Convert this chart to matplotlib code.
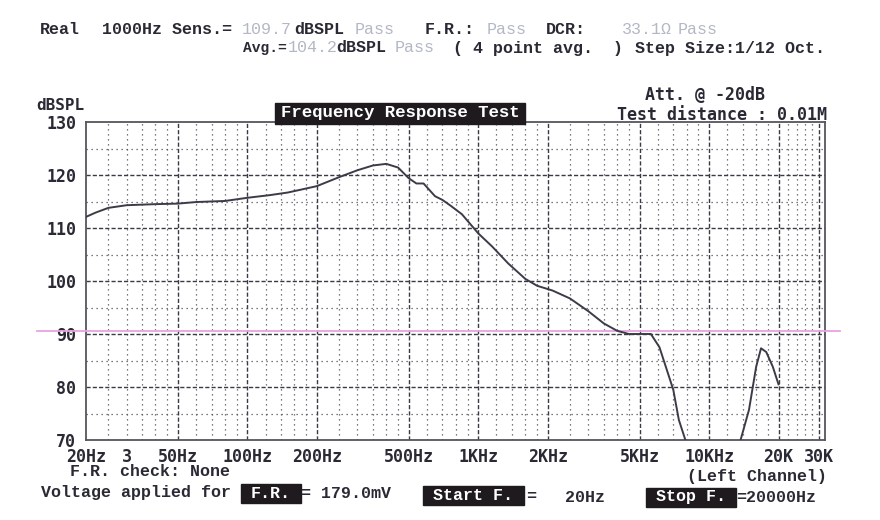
import numpy as np
import matplotlib.pyplot as plt
from matplotlib.patches import Rectangle

freq = [20, 22, 25, 30, 40, 50, 60, 80, 100, 125, 150, 200, 250, 300, 350, 400,
        450, 500, 540, 580, 650, 700, 760, 850, 1000, 1150, 1350, 1600, 1800,
        2100, 2500, 3000, 3500, 4000, 4500, 5600, 6100, 7000, 7400, 7900, 8500,
        12500, 13700, 14900, 16000, 16800, 17700, 18900, 20000]
spl = [112.1, 112.9, 113.8, 114.3, 114.5, 114.6, 114.9, 115.1, 115.7, 116.2,
       116.7, 117.9, 119.6, 120.9, 121.8, 122.1, 121.4, 119.4, 118.4, 118.4,
       116.0, 115.3, 114.2, 112.6, 109.0, 106.5, 103.3, 100.4, 99.1, 98.2,
       96.7, 94.3, 92.0, 90.6, 90.0, 90.0, 87.5, 79.5, 73.8, 70.0, 64.0,
       64.0, 70.0, 75.7, 83.8, 87.3, 86.6, 83.8, 80.5]

limit_db = 90.5

xtick_pos = [20, 30, 50, 100, 200, 500, 1000, 2000, 5000, 10000, 20000, 30000]
xtick_lab = ["20Hz", "3", "50Hz", "100Hz", "200Hz", "500Hz", "1KHz", "2KHz",
             "5KHz", "10KHz", "20K", "30K"]
ytick_pos = [70, 80, 90, 100, 110, 120, 130]

major_v = [50, 100, 200, 500, 1000, 2000, 5000, 10000, 20000, 30000]
minor_v = [25, 30, 35, 40, 45, 60, 70, 80, 90, 120, 140, 160, 180,
           250, 300, 350, 400, 450, 600, 700, 800, 900,
           1200, 1400, 1600, 1800, 2500, 3000, 3500, 4000, 4500,
           6000, 7000, 8000, 9000, 12000, 14000, 16000, 18000,
           22000, 24000, 26000, 28000]
major_h = [80, 90, 100, 110, 120]
minor_h = [75, 85, 95, 105, 115, 125]

W, H = 880, 520
DARK = "#2a2a35"
GRAY = "#b4b8c6"
MONO = "Liberation Mono"
SMONO = "DejaVu Sans Mono"

fig = plt.figure(figsize=(W / 100, H / 100), dpi=100)
fig.patch.set_facecolor("white")
ax = fig.add_axes([86 / W, 80 / H, 739 / W, 318 / H])

ax.set_xscale("log")
ax.set_xlim(20, 31800)
ax.set_ylim(70, 130)

for v in minor_v:
    ax.axvline(v, color="#50505a", lw=0.9, ls=(0, (1, 3)))
for v in major_v:
    ax.axvline(v, color="#3a3a44", lw=1.0, ls=(0, (3, 1.5)))
for h in minor_h:
    ax.axhline(h, color="#50505a", lw=0.9, ls=(0, (1, 3)))
for h in major_h:
    ax.axhline(h, color="#3a3a44", lw=1.0, ls=(0, (3, 1.5)))

ax.axhline(limit_db, xmin=-0.066, xmax=1.02, color="#e6a4df", lw=1.3,
           clip_on=False, zorder=3)
ax.plot(freq, spl, color="#3c3c48", lw=1.4, zorder=4)

ax.set_xticks(xtick_pos)
ax.set_xticklabels(xtick_lab)
ax.xaxis.set_minor_locator(plt.NullLocator())
ax.set_yticks(ytick_pos)
ax.tick_params(length=0, labelsize=12, colors=DARK)
ax.tick_params(axis="x", pad=6)
ax.tick_params(axis="y", pad=7)
for lab in ax.get_xticklabels() + ax.get_yticklabels():
    lab.set_fontfamily(SMONO)
    lab.set_fontweight("bold")
for s in ax.spines.values():
    s.set_color("#55555f")
    s.set_linewidth(1.3)


def put(x, y, s, color=DARK, size=12, family=MONO, weight="bold", ha="left"):
    fig.text(x / W, 1 - y / H, s, color=color, fontsize=size, family=family,
             fontweight=weight, ha=ha, va="center", zorder=6)


def box(x0, x1, y0, y1):
    fig.add_artist(Rectangle((x0 / W, 1 - y1 / H), (x1 - x0) / W, (y1 - y0) / H,
                             transform=fig.transFigure, color="#1e1a1e", zorder=5))


# header lines
put(40, 30, "Real")
put(102, 30, "1000Hz Sens.=")
put(242, 30, "109.7", GRAY, weight="normal")
put(294, 30, "dBSPL")
put(355, 30, "Pass", GRAY, weight="normal")
put(425, 30, "F.R.:")
put(487, 30, "Pass", GRAY, weight="normal")
put(546, 30, "DCR:")
put(622, 30, "33.1Ω", GRAY, weight="normal")
put(678, 30, "Pass", GRAY, weight="normal")

put(243, 48, "Avg.=", size=10.5)
put(288, 48, "104.2", GRAY, weight="normal")
put(336, 48, "dBSPL")
put(395, 48, "Pass", GRAY, weight="normal")
put(453, 48, "( 4 point avg.  )")
put(635, 48, "Step Size:1/12 Oct.")

put(36, 106, "dBSPL", size=11.5, family=SMONO)
box(275, 525, 103, 124)
put(400, 113, "Frequency Response Test", "white", size=12.5, ha="center")
put(705, 95, "Att. @ -20dB", family=SMONO, ha="center")
put(722, 115, "Test distance : 0.01M", family=SMONO, ha="center")

# footer
put(70, 472, "F.R. check: None")
put(757, 477, "(Left Channel)", ha="center")
put(41, 492, "Voltage applied for")
box(241, 301, 484, 503)
put(271, 493, "F.R.", "white", ha="center")
put(301, 494, "= 179.0mV")
box(423, 524, 486, 505)
put(473, 495, "Start F.", "white", ha="center")
put(526, 496, "=")
put(565, 497, "20Hz")
box(646, 736, 488, 507)
put(691, 497, "Stop F.", "white", ha="center")
put(736, 498, "=20000Hz")

fig.savefig("out.png", dpi=100)
